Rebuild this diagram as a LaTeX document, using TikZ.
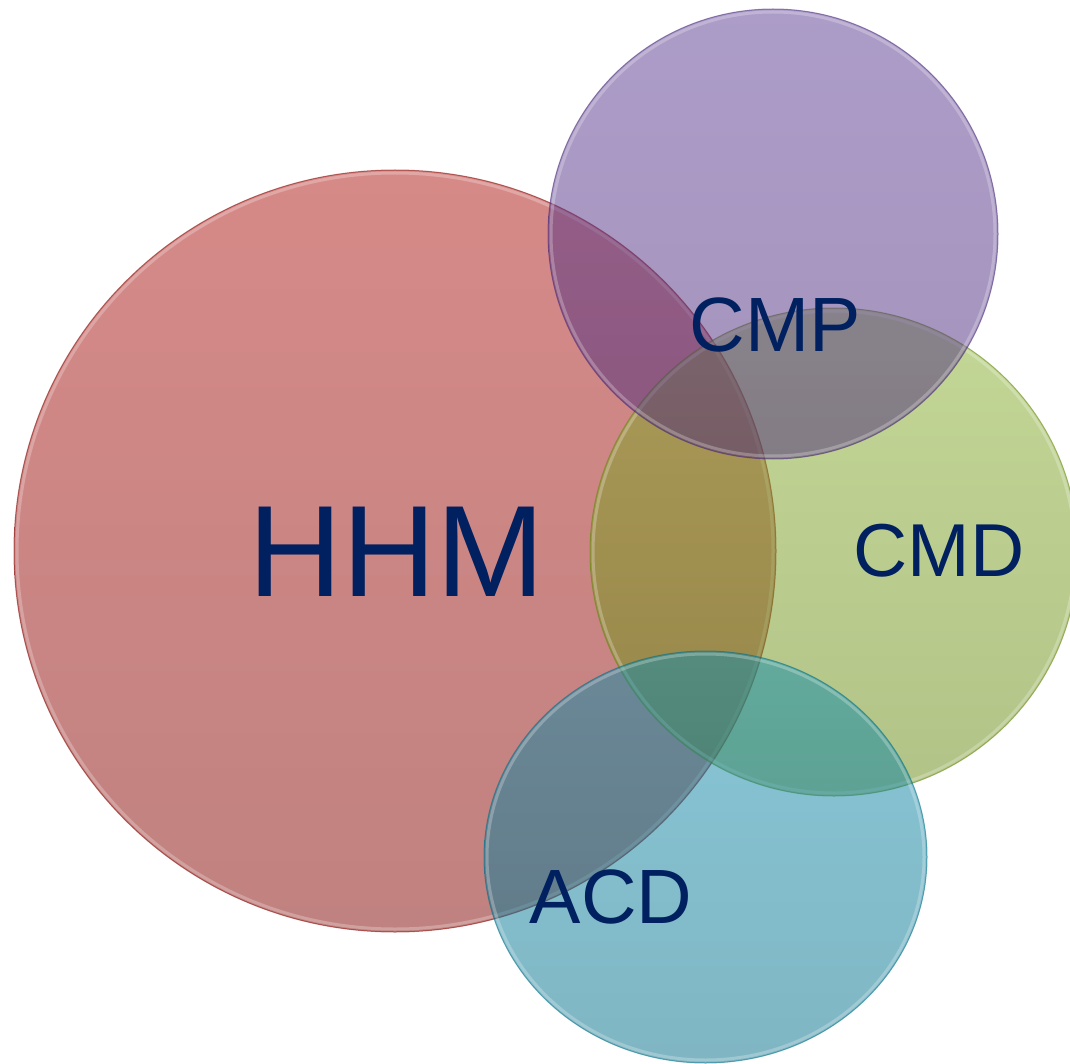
\documentclass[tikz,border=0pt]{standalone}
\usepackage{fontspec}
\setmainfont{Liberation Sans}
\definecolor{redtop}{RGB}{173,21,17}
\definecolor{redbot}{RGB}{129,5,1}
\definecolor{purtop}{RGB}{89,57,145}
\definecolor{purbot}{RGB}{73,41,121}
\definecolor{grntop}{RGB}{135,175,45}
\definecolor{grnbot}{RGB}{101,135,15}
\definecolor{blutop}{RGB}{15,141,175}
\definecolor{blubot}{RGB}{1,109,135}
\definecolor{navy}{RGB}{0,32,96}
\tikzset{
  disc/.style n args={2}{top color=#1, bottom color=#2, fill opacity=0.5, draw=#2, draw opacity=0.55, line width=1pt},
  rim/.style={draw=white, draw opacity=0.25, line width=3pt},
  lbl/.style={text=navy, anchor=base, inner sep=0pt}
}
\begin{document}
\begin{tikzpicture}[x=1pt,y=-1pt]
\useasboundingbox (0,0) rectangle (1070,1064);
\begin{scope}
\clip (0,0) rectangle (1070,1064);
% HHM
\shade[disc={redtop}{redbot}] (395,551) circle (381pt);
\draw[rim] (395,551) circle (378pt);
% CMD
\shade[disc={grntop}{grnbot}] (834,552) circle (244pt);
\draw[rim] (834,552) circle (241pt);
% CMP
\shade[disc={purtop}{purbot}] (773,234) circle (225pt);
\draw[rim] (773,234) circle (222pt);
% ACD
\shade[disc={blutop}{blubot}] (705.5,857) ellipse [x radius=221.5pt, y radius=206pt];
\draw[rim] (705.5,857) ellipse [x radius=218.5pt, y radius=203pt];
\end{scope}
\node[lbl, font=\fontsize{130}{130}\selectfont] (hhm) at (397,596) {HHM};
\node[lbl, font=\fontsize{77}{77}\selectfont] (cmp) at (775,352) {CMP};
\node[lbl, font=\fontsize{75}{75}\selectfont] (cmd) at (939,576) {CMD};
\node[lbl, font=\fontsize{77}{77}\selectfont] (acd) at (611,923) {ACD};
\end{tikzpicture}
\end{document}
